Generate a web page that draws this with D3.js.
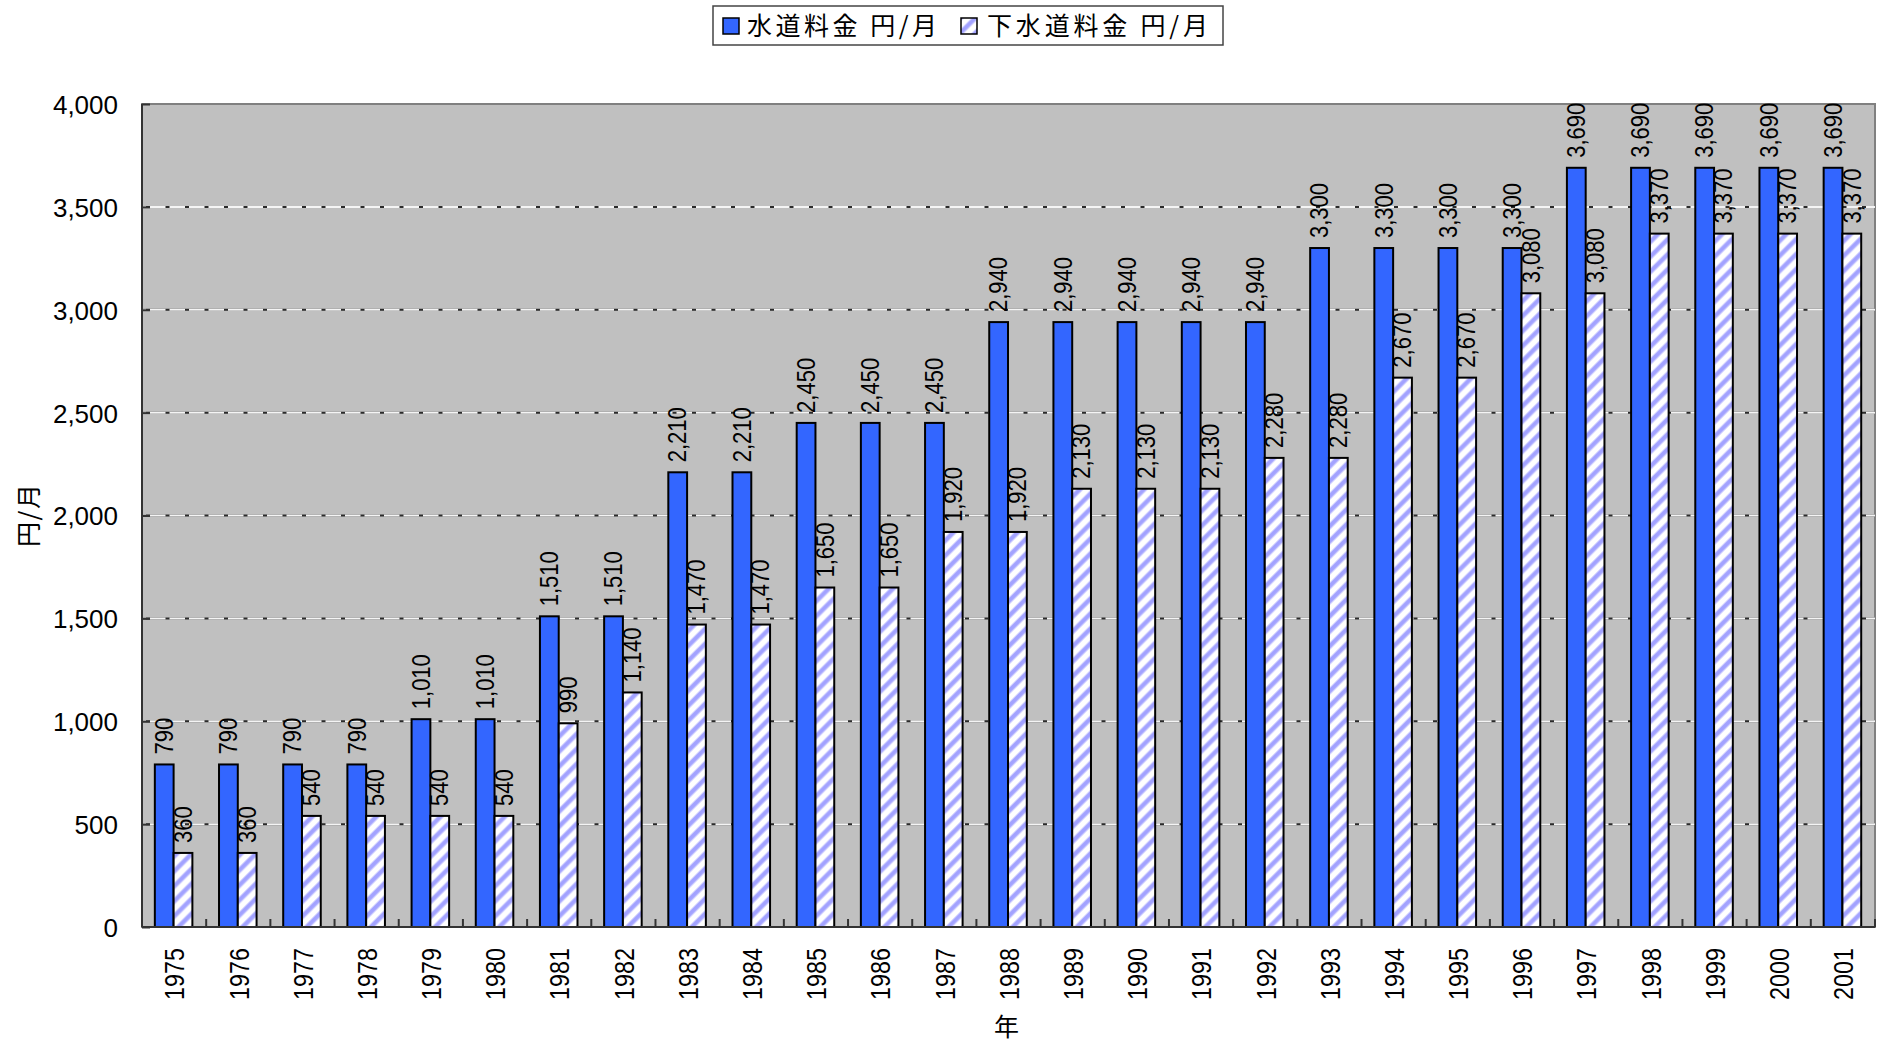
<!DOCTYPE html>
<html>
<head>
<meta charset="utf-8">
<script src="https://cdn.jsdelivr.net/npm/d3@7"></script>
<style>
  html, body { margin: 0; padding: 0; background: #ffffff; }
  svg { display: block; }
</style>
</head>
<body>
<svg id="chart" width="1877" height="1047"></svg>
<script>
// Monthly water and sewer charges (yen per month), 1975–2001
const years = ["1975","1976","1977","1978","1979","1980","1981","1982","1983","1984",
  "1985","1986","1987","1988","1989","1990","1991","1992","1993","1994",
  "1995","1996","1997","1998","1999","2000","2001"];
const waterFee = [790,790,790,790,1010,1010,1510,1510,2210,2210,
  2450,2450,2450,2940,2940,2940,2940,2940,3300,3300,
  3300,3300,3690,3690,3690,3690,3690];
const sewerFee = [360,360,540,540,540,540,990,1140,1470,1470,
  1650,1650,1920,1920,2130,2130,2130,2280,2280,2670,
  2670,3080,3080,3370,3370,3370,3370];
const seriesNames = ["水道料金 円/月", "下水道料金 円/月"];
const yTicks = [0,500,1000,1500,2000,2500,3000,3500,4000];
const yTitle = "円/月";
const xTitle = "年";

const W = 1877, H = 1047;
const plot = { left: 142, right: 1875, top: 104, bottom: 927 };
const NUM_FONT = "'Liberation Sans', Arial, sans-serif";
const CJK_FONT = "'Noto Sans CJK JP', sans-serif";

const svg = d3.select("#chart");

// Diagonal hatch for the sewer series (soft-edged stripes)
const defs = svg.append("defs");
const P = 10.6;
const pat = defs.append("pattern")
  .attr("id", "hatch")
  .attr("patternUnits", "userSpaceOnUse")
  .attr("width", P).attr("height", P)
  .attr("patternTransform", "rotate(45)");
pat.append("rect").attr("width", P).attr("height", P).attr("fill", "#ffffff");
pat.append("rect").attr("x", 0).attr("width", 5.6).attr("height", P).attr("fill", "#d2d2ff");
pat.append("rect").attr("x", 1).attr("width", 3.6).attr("height", P).attr("fill", "#a2a2ff");

const x0 = d3.scaleBand().domain(years).range([plot.left, plot.right]).padding(0);
const bw = x0.bandwidth();
const x1 = d3.scaleBand().domain([0, 1]).range([bw * 0.2, bw * 0.785]).padding(0);
const y = d3.scaleLinear().domain([0, 4000]).range([plot.bottom, plot.top]);

// Plot background
svg.append("rect")
  .attr("x", plot.left).attr("y", plot.top)
  .attr("width", plot.right - plot.left).attr("height", plot.bottom - plot.top)
  .attr("fill", "#c0c0c0").attr("stroke", "#808080").attr("stroke-width", 2);

// Gridlines: dark base with light dashes
const grid = svg.append("g");
const gridVals = yTicks.filter(v => v > 0 && v < 4000);
grid.selectAll("line.base").data(gridVals).join("line")
  .attr("class", "base")
  .attr("x1", plot.left).attr("x2", plot.right)
  .attr("y1", d => y(d)).attr("y2", d => y(d))
  .attr("stroke", "#2a2a2a").attr("stroke-width", 2);
grid.selectAll("line.dash").data(gridVals).join("line")
  .attr("class", "dash")
  .attr("x1", plot.left).attr("x2", plot.right)
  .attr("y1", d => y(d)).attr("y2", d => y(d))
  .attr("stroke", "#f4f4f4").attr("stroke-width", 2)
  .attr("stroke-dasharray", "15.5,4").attr("stroke-dashoffset", -8);

// Bars
const rows = years.map((yr, i) => ({ year: yr, vals: [waterFee[i], sewerFee[i]] }));
const fills = ["#3366ff", "url(#hatch)"];
const groups = svg.append("g").selectAll("g").data(rows).join("g")
  .attr("transform", d => `translate(${x0(d.year)},0)`);
groups.selectAll("rect").data(d => d.vals.map((v, k) => ({ v, k }))).join("rect")
  .attr("x", d => x1(d.k))
  .attr("y", d => y(d.v))
  .attr("width", x1.bandwidth())
  .attr("height", d => y(0) - y(d.v))
  .attr("fill", d => fills[d.k])
  .attr("stroke", "#000").attr("stroke-width", 2);

// Value labels (rotated, above each bar)
groups.selectAll("text").data(d => d.vals.map((v, k) => ({ v, k }))).join("text")
  .attr("transform", d => `translate(${x1(d.k) + x1.bandwidth() / 2},${y(d.v) - 10}) rotate(-90) scale(0.88,1)`)
  .attr("dy", "0.35em")
  .attr("text-anchor", "start")
  .attr("font-family", NUM_FONT).attr("font-size", 25)
  .attr("fill", "#000")
  .text(d => d3.format(",")(d.v));

// Axes lines
svg.append("line").attr("x1", plot.left).attr("x2", plot.left)
  .attr("y1", plot.top).attr("y2", plot.bottom).attr("stroke", "#333").attr("stroke-width", 2);
svg.append("line").attr("x1", plot.left).attr("x2", plot.right)
  .attr("y1", plot.bottom).attr("y2", plot.bottom).attr("stroke", "#333").attr("stroke-width", 2);

// Y axis ticks (inward) and labels
const yAxis = svg.append("g").attr("transform", `translate(${plot.left},0)`)
  .call(d3.axisLeft(y).tickValues(yTicks).tickSizeInner(-8).tickSizeOuter(0).tickPadding(24)
    .tickFormat(d3.format(",")));
yAxis.select(".domain").remove();
yAxis.selectAll(".tick line").attr("stroke", "#333").attr("stroke-width", 2);
yAxis.selectAll(".tick text")
  .attr("font-family", NUM_FONT).attr("font-size", 26).attr("fill", "#000")
  .attr("dy", "0.36em");

// X axis ticks at category boundaries (inward)
const bounds = years.map(d => x0(d)).concat([plot.right]);
svg.append("g").selectAll("line").data(bounds).join("line")
  .attr("x1", d => d).attr("x2", d => d)
  .attr("y1", plot.bottom).attr("y2", plot.bottom - 8)
  .attr("stroke", "#333").attr("stroke-width", 2);

// Year labels
svg.append("g").selectAll("text").data(years).join("text")
  .attr("transform", d => `translate(${x0(d) + bw / 2},${plot.bottom + 21}) rotate(-90) scale(0.82,1)`)
  .attr("dy", "0.36em")
  .attr("text-anchor", "end")
  .attr("font-family", NUM_FONT).attr("font-size", 28.5).attr("fill", "#000")
  .text(d => d);

// Axis titles
svg.append("text")
  .attr("transform", `translate(29,${(plot.top + plot.bottom) / 2}) rotate(-90)`)
  .attr("text-anchor", "middle").attr("dy", "0.36em")
  .attr("font-family", CJK_FONT).attr("font-size", 25).attr("fill", "#000")
  .attr("textLength", 63).attr("lengthAdjust", "spacing")
  .text(yTitle);
svg.append("text")
  .attr("x", (plot.left + plot.right) / 2 - 2).attr("y", 1027)
  .attr("text-anchor", "middle").attr("dy", "0.36em")
  .attr("font-family", CJK_FONT).attr("font-size", 25).attr("fill", "#000")
  .text(xTitle);

// Legend
const legend = svg.append("g");
legend.append("rect")
  .attr("x", 713).attr("y", 6).attr("width", 510).attr("height", 39)
  .attr("fill", "#fff").attr("stroke", "#444").attr("stroke-width", 1.5);
const legendItems = [
  { icon: 723, text: 747, len: 190 },
  { icon: 961, text: 987, len: 221 }
];
const legendFills = ["#3366ff", "url(#hatch)"];
seriesNames.forEach((name, k) => {
  const it = legendItems[k];
  legend.append("rect")
    .attr("x", it.icon).attr("y", 18).attr("width", 16).attr("height", 16)
    .attr("fill", legendFills[k]).attr("stroke", "#000").attr("stroke-width", 1.5);
  legend.append("text")
    .attr("x", it.text).attr("y", 26).attr("dy", "0.36em")
    .attr("font-family", CJK_FONT).attr("font-size", 25).attr("fill", "#000")
    .attr("textLength", it.len).attr("lengthAdjust", "spacing")
    .text(name);
});
</script>
</body>
</html>
